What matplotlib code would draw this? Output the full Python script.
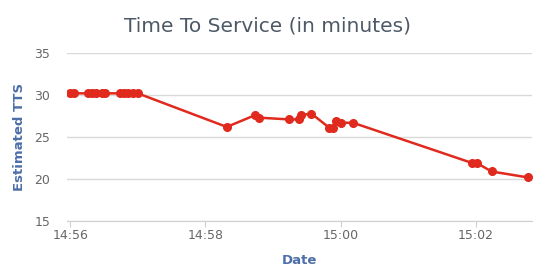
import matplotlib
matplotlib.use("Agg")
import matplotlib.pyplot as plt
import matplotlib.dates as mdates
import pandas as pd

# readings taken off the chart (time of day, estimated TTS in minutes)
times = ["14:56:00", "14:56:03", "14:56:16", "14:56:19", "14:56:23", "14:56:28",
         "14:56:31", "14:56:44", "14:56:48", "14:56:51", "14:56:56", "14:57:00",
         "14:58:19", "14:58:44", "14:58:48", "14:59:14", "14:59:23", "14:59:25",
         "14:59:34", "14:59:50", "14:59:53", "14:59:56", "15:00:00", "15:00:11",
         "15:01:57", "15:02:01", "15:02:14", "15:02:46"]
tts = [30.2, 30.2, 30.2, 30.2, 30.2, 30.2,
       30.2, 30.2, 30.2, 30.2, 30.2, 30.2,
       26.2, 27.6, 27.3, 27.1, 27.1, 27.6,
       27.8, 26.1, 26.1, 26.9, 26.7, 26.7,
       21.9, 21.9, 20.9, 20.2]
x_ticks = ["14:56", "14:58", "15:00", "15:02"]
y_ticks = [15, 20, 25, 30, 35]

day = "2015-01-01 "
t = pd.to_datetime([day + s for s in times])
tick_pos = pd.to_datetime([day + s for s in x_ticks])

fig = plt.figure(figsize=(5.52, 2.76), dpi=100)
ax = fig.add_axes([0.121, 0.199, 0.843, 0.609])

ax.plot(t, tts, color="#e02a1e", lw=1.8, marker="o", ms=5.5, zorder=3)

ax.set_ylim(15, 35)
ax.set_yticks(y_ticks)
ax.set_xlim(t[0] - pd.Timedelta(seconds=3), t[-1] + pd.Timedelta(seconds=4))
ax.set_xticks(tick_pos)
ax.xaxis.set_major_formatter(mdates.DateFormatter("%H:%M"))

ax.grid(axis="y", color="#d9d9d9", lw=1)
for s in ["top", "right", "left"]:
    ax.spines[s].set_visible(False)
ax.spines["bottom"].set_color("#d0d0d0")
ax.tick_params(axis="y", length=0, pad=12, labelsize=9, labelcolor="#666666")
ax.tick_params(axis="x", length=4, color="#d0d0d0", pad=2, labelsize=9, labelcolor="#666666")

# title sits a bit left of the plot centre, like the original
fig.text(267 / 552, 1 - 26 / 276, "Time To Service (in minutes)", fontsize=14.5,
         color="#4d5966", ha="center", va="center")
ax.set_xlabel("Date", fontsize=9.5, fontweight="bold", color="#4d6ea8", labelpad=8)
ax.set_ylabel("Estimated TTS", fontsize=9.5, fontweight="bold", color="#4d6ea8", labelpad=6)

fig.savefig("out.png", dpi=100)
